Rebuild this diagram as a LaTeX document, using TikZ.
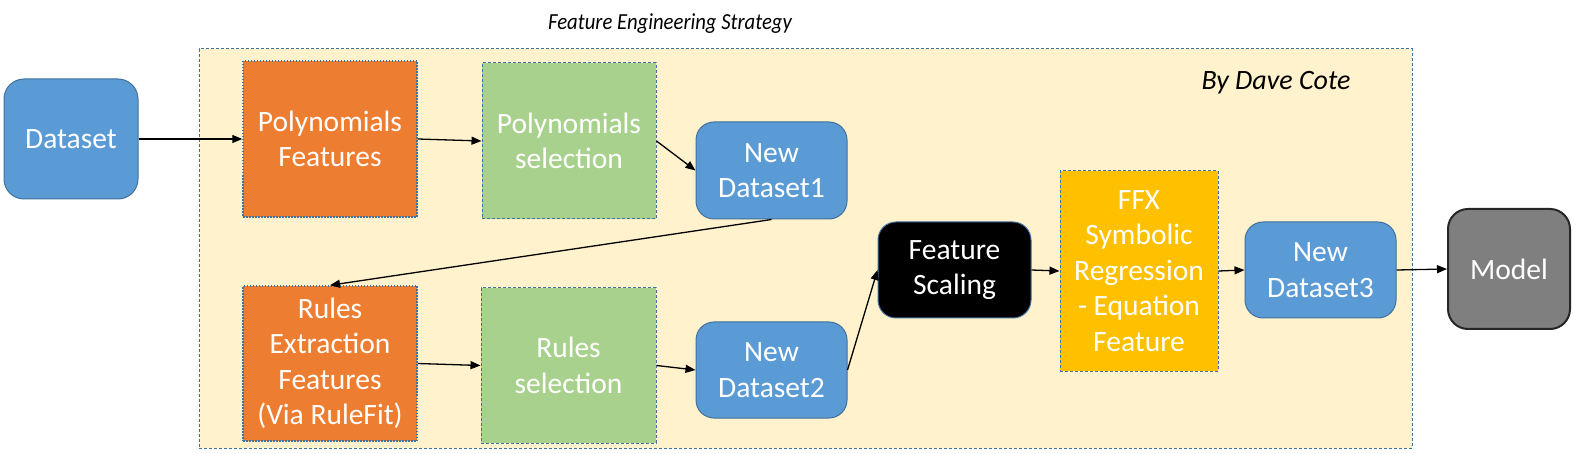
\documentclass[tikz,border=0pt]{standalone}
\usepackage{fontspec}
\setmainfont{Carlito}
\usetikzlibrary{arrows.meta}
\definecolor{cblue}{HTML}{5B9BD5}
\definecolor{cborder}{HTML}{41719C}
\definecolor{corange}{HTML}{ED7D31}
\definecolor{cgreen}{HTML}{A9D18E}
\definecolor{cyellow}{HTML}{FFC000}
\definecolor{cbg}{HTML}{FFF2CC}
\definecolor{cgray}{HTML}{7F7F7F}
\definecolor{cdark}{HTML}{262626}
\begin{document}
\begin{tikzpicture}[x=1pt,y=-1pt,
  box/.style={inner sep=0pt, align=center, text=white, font=\fontsize{29.5}{35.5}\selectfont},
  roundbox/.style={box, fill=cblue, draw=cborder, line width=1pt, rounded corners=18pt},
  orangebox/.style={box, fill=corange, draw=cborder, line width=1.5pt, dash pattern=on 1.5pt off 1.5pt},
  greenbox/.style={box, fill=cgreen, draw=cborder, line width=1pt, dash pattern=on 3pt off 2pt},
  yellowbox/.style={box, fill=cyellow, draw=cborder, line width=1pt, dash pattern=on 3pt off 2pt},
  conn/.style={line width=1.3pt, -{Triangle[length=10pt,width=8pt]}}
]
\useasboundingbox (0,0) rectangle (1577,454);
\node[draw=cborder, fill=cbg, line width=1pt, dash pattern=on 3pt off 2pt, inner sep=0pt,
      minimum width=1213pt, minimum height=399pt] (bg) at (805.5,248.5) {};
\node[anchor=base, xscale=0.9, transform shape, font=\fontsize{23}{27}\selectfont\itshape] (title) at (670,30) {Feature Engineering Strategy};
\node[anchor=base, font=\fontsize{28}{32}\selectfont\itshape] (author) at (1276,90) {By Dave Cote};

\node[roundbox, rounded corners=20pt, minimum width=134pt, minimum height=120pt] (ds) at (71,139) {Dataset};
\node[orangebox, minimum width=174pt, minimum height=156pt] (pf) at (330,139) {Polynomials\\Features};
\node[greenbox, minimum width=174pt, minimum height=156pt] (ps) at (569,141) {Polynomials\\selection};
\node[roundbox, minimum width=151pt, minimum height=97pt] (nd1) at (771.5,170.5) {New\\Dataset1};
\node[orangebox, minimum width=174pt, minimum height=155pt] (re) at (330,363.5) {Rules\\Extraction\\Features\\(Via RuleFit)};
\node[greenbox, minimum width=175pt, minimum height=155pt] (rs) at (568.5,365.5) {Rules\\selection};
\node[roundbox, minimum width=151pt, minimum height=96pt] (nd2) at (771.5,370) {New\\Dataset2};
\node[roundbox, fill=black, minimum width=153pt, minimum height=96pt] (fs) at (954.5,270) {Feature\\Scaling};
\node[yellowbox, minimum width=158pt, minimum height=200pt] (ffx) at (1139,271) {FFX\\Symbolic\\Regression\\- Equation\\Feature};
\node[roundbox, minimum width=151pt, minimum height=96pt] (nd3) at (1320.5,270) {New\\Dataset3};
\node[roundbox, fill=cgray, draw=cdark, line width=2pt, rounded corners=20pt, minimum width=122pt, minimum height=120pt] (model) at (1509,269) {Model};

\draw[conn] (ds.east) -- (pf.west);
\draw[conn] (pf.east) -- (ps.west);
\draw[conn] (ps.east) -- (nd1.west);
\draw[conn] (nd1.south) -- (re.north);
\draw[conn] (re.east) -- (rs.west);
\draw[conn] (rs.east) -- (nd2.west);
\draw[conn] (nd2.east) -- (fs.west);
\draw[conn] (fs.east) -- (ffx.west);
\draw[conn] (ffx.east) -- (nd3.west);
\draw[conn] (nd3.east) -- (model.west);
\end{tikzpicture}
\end{document}
